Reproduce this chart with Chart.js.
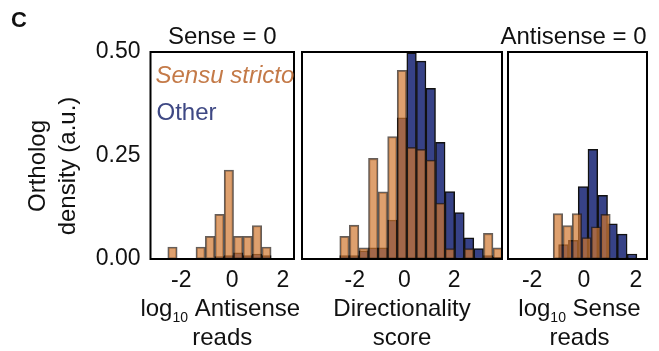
<!DOCTYPE html>
<html>
<head>
<meta charset="utf-8">
<script src="https://cdn.jsdelivr.net/npm/chart.js@4.4.1/dist/chart.umd.min.js"></script>
<style>
  body { margin: 0; background: #fff; }
  #wrap { position: relative; width: 659px; height: 351px; }
  canvas { position: absolute; left: 0; top: 0; }
</style>
</head>
<body>
<div id="wrap">
  <canvas id="sense" width="659" height="351"></canvas>
  <canvas id="direction" width="659" height="351"></canvas>
  <canvas id="antisense" width="659" height="351"></canvas>
</div>
<script>
// Sense = 0 : log10 antisense reads
const senseBins = [-2.345, -1.975, -1.605, -1.235, -0.865, -0.495, -0.125, 0.245, 0.615, 0.985, 1.355];
const senseStricto = [0.029, 0, 0, 0.029, 0.055, 0.108, 0.215, 0.055, 0.055, 0.081, 0.029];
const senseOtherBins = [-0.495, -0.125, 0.245, 0.615, 0.985, 1.355];
const senseOther = [0.006, 0.008, 0.015, 0.008, 0.012, 0.008];

// directionality score
const dirBins = [-2.41, -2.025, -1.64, -1.255, -0.87, -0.485, -0.1, 0.285, 0.67, 1.055, 1.44, 1.825, 2.21, 2.595, 2.98, 3.365, 3.75];
const dirStricto = [0.055, 0.082, 0.027, 0.243, 0.162, 0.296, 0.456, 0.27, 0.265, 0.239, 0.135, 0.025, 0, 0.025, 0, 0.062, 0.027];
const dirOther = [0.008, 0.008, 0.02, 0.027, 0.027, 0.094, 0.341, 0.498, 0.478, 0.412, 0.282, 0.163, 0.112, 0.051, 0.025, 0.008, 0.004];

// Antisense = 0 : log10 sense reads
const antiStrictoBins = [-1.005, -0.638, -0.271, 0.096, 0.463, 0.83];
const antiStricto = [0.110, 0.081, 0.110, 0.052, 0.078, 0.108];
const antiOtherBins = [-0.79, -0.4125, -0.035, 0.3425, 0.72, 1.0975, 1.475, 1.8525];
const antiOther = [0.035, 0.045, 0.175, 0.265, 0.154, 0.085, 0.060, 0.012];

const xTicks = [-2, 0, 2];
const yTicks = [0, 0.25, 0.5];

const FONT = '"Liberation Sans", Arial, Helvetica, sans-serif';
const ORANGE = 'rgba(208,119,48,0.7)';
const ORANGE_EDGE = 'rgba(35,25,20,0.7)';
const BLUE = 'rgb(55,66,135)';
const BLUE_EDGE = '#111';

Chart.defaults.font.family = FONT;
Chart.defaults.color = '#111';

function toPoints(bins, vals) {
  return bins.map((b, i) => ({ x: b, y: vals[i] }));
}

function barSet(label, bins, vals, axis, fill, edge) {
  return {
    label: label,
    data: toPoints(bins, vals),
    xAxisID: axis,
    backgroundColor: fill,
    borderColor: edge,
    borderWidth: 1.5,
    borderSkipped: false,
    barPercentage: 1,
    categoryPercentage: 1,
    grouped: false
  };
}

// bars sit on their own hidden axes, with no ticks so the bar width
// comes only from the bin spacing
function hiddenAxis(range) {
  return {
    type: 'linear',
    min: range[0],
    max: range[1],
    offset: false,
    display: false,
    afterBuildTicks: s => { s.ticks = []; }
  };
}

function text(ctx, str, x, y, size, opts) {
  opts = opts || {};
  ctx.font = (opts.style || '') + ' ' + size + 'px ' + FONT;
  ctx.fillStyle = opts.color || '#111';
  ctx.textAlign = opts.align || 'center';
  ctx.textBaseline = 'middle';
  ctx.fillText(str, x, y);
}

// "log10 xxx" with the 10 set as a subscript
function logLabel(ctx, cx, cy, rest) {
  ctx.textBaseline = 'alphabetic';
  ctx.fillStyle = '#111';
  const big = '24px ' + FONT, small = '14px ' + FONT;
  ctx.font = big;
  const w1 = ctx.measureText('log').width;
  const w3 = ctx.measureText(rest).width;
  ctx.font = small;
  const w2 = ctx.measureText('10').width;
  let x = cx - (w1 + w2 + w3) / 2;
  const base = cy + 8;
  ctx.textAlign = 'left';
  ctx.font = big;
  ctx.fillText('log', x, base);
  x += w1;
  ctx.font = small;
  ctx.fillText('10', x, base + 6);
  x += w2;
  ctx.font = big;
  ctx.fillText(rest, x, base);
}

function panel(id, cfg) {
  const decor = {
    id: 'decor' + id,
    afterDatasetsDraw(chart) {
      const ctx = chart.ctx, a = chart.chartArea;
      ctx.save();
      ctx.strokeStyle = '#000';
      ctx.lineWidth = 2;
      ctx.strokeRect(a.left, a.top, a.right - a.left, a.bottom - a.top);
      cfg.draw(ctx, a);
      ctx.restore();
    }
  };

  return new Chart(document.getElementById(id), {
    type: 'bar',
    data: {
      datasets: [
        barSet('Sensu stricto', cfg.stricto[0], cfg.stricto[1], 'xo', ORANGE, ORANGE_EDGE),
        barSet('Other', cfg.other[0], cfg.other[1], 'xb', BLUE, BLUE_EDGE)
      ]
    },
    options: {
      responsive: false,
      animation: false,
      layout: { padding: cfg.padding },
      plugins: { legend: { display: false }, tooltip: { enabled: false } },
      scales: {
        x: {
          type: 'linear',
          min: cfg.range[0],
          max: cfg.range[1],
          offset: false,
          afterBuildTicks: s => { s.ticks = xTicks.map(v => ({ value: v })); },
          afterFit: s => { s.height = 92; },
          grid: { display: false, drawTicks: false },
          border: { display: false },
          ticks: { autoSkip: false, maxRotation: 0, padding: 8, font: { size: 23 }, color: '#111' }
        },
        xo: hiddenAxis(cfg.range),
        xb: hiddenAxis(cfg.range),
        y: {
          min: 0,
          max: 0.5,
          display: cfg.showY,
          afterBuildTicks: s => { s.ticks = yTicks.map(v => ({ value: v })); },
          afterFit: s => { s.width = cfg.showY ? 150.5 : 0; },
          grid: { display: false, drawTicks: false },
          border: { display: false },
          ticks: { padding: 10, font: { size: 23 }, color: '#111', callback: v => v.toFixed(2) }
        }
      }
    },
    plugins: [decor]
  });
}

panel('sense', {
  stricto: [senseBins, senseStricto],
  other: [senseOtherBins, senseOther],
  range: [-3.21, 2.44],
  showY: true,
  padding: { left: 0, top: 52, right: 659 - 294, bottom: 0 },
  draw(ctx, a) {
    const cx = (a.left + a.right) / 2;
    text(ctx, 'Sense = 0', cx, 37, 24);
    text(ctx, 'Sensu stricto', a.left + 5, 76, 24, { style: 'italic', color: 'rgb(196,122,72)', align: 'left' });
    text(ctx, 'Other', a.left + 6, 113, 24, { color: 'rgb(62,72,132)', align: 'left' });
    logLabel(ctx, cx - 2, 308, ' Antisense');
    text(ctx, 'reads', cx, 338, 24);
    text(ctx, 'C', 11, 21, 22, { style: 'bold', align: 'left' });
    // y axis title, two stacked lines
    ctx.save();
    ctx.translate(38, 166);
    ctx.rotate(-Math.PI / 2);
    text(ctx, 'Ortholog', 0, 0, 24);
    text(ctx, 'density (a.u.)', 0, 30, 24);
    ctx.restore();
  }
});

panel('direction', {
  stricto: [dirBins, dirStricto],
  other: [dirBins, dirOther],
  range: [-4.12, 3.92],
  showY: false,
  padding: { left: 302, top: 52, right: 659 - 502, bottom: 0 },
  draw(ctx, a) {
    const cx = (a.left + a.right) / 2;
    text(ctx, 'Directionality', cx, 309, 24);
    text(ctx, 'score', cx, 338, 24);
  }
});

panel('antisense', {
  stricto: [antiStrictoBins, antiStricto],
  other: [antiOtherBins, antiOther],
  range: [-2.93, 2.43],
  showY: false,
  padding: { left: 508, top: 52, right: 659 - 647, bottom: 0 },
  draw(ctx, a) {
    const cx = (a.left + a.right) / 2;
    text(ctx, 'Antisense = 0', cx - 4, 37, 24);
    logLabel(ctx, cx + 2, 308, ' Sense');
    text(ctx, 'reads', cx + 2, 338, 24);
  }
});
</script>
</body>
</html>
